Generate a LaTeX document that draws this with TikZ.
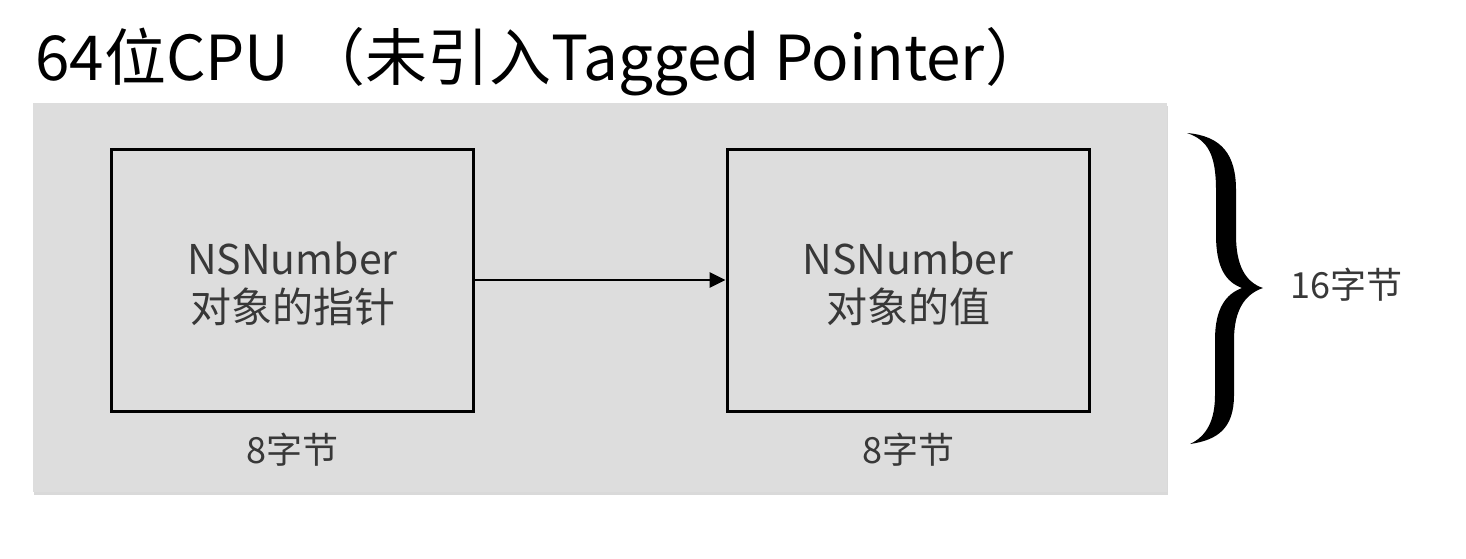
\documentclass[tikz,border=0pt]{standalone}
\usepackage{fontspec}
\setmainfont{Noto Sans CJK SC}
\usetikzlibrary{positioning,shadows,arrows.meta}

\definecolor{panelgray}{RGB}{221,221,221}
\definecolor{textgray}{RGB}{56,56,56}

\tikzset{
  panelbox/.style={fill=panelgray, minimum width=1134pt, minimum height=389pt, inner sep=0pt,
    drop shadow={shadow xshift=1pt, shadow yshift=-3pt, opacity=0.25, fill=black!60}},
  membox/.style={draw=black, line width=3pt, minimum width=362pt, minimum height=262pt, inner sep=0pt},
  boxtext/.style={text=textgray, font=\fontsize{41}{48}\selectfont, align=center, inner sep=0pt},
  sizetext/.style={text=textgray, font=\fontsize{36}{40}\selectfont, inner sep=0pt},
}

\begin{document}
\begin{tikzpicture}[x=1pt, y=-1pt]

    \useasboundingbox (0,0) rectangle (1466,558);

    % 画标题
    \node[anchor=base west, inner sep=0pt] (title) at (35,80)
      {\fontsize{62}{64}\selectfont 64位CPU （未引入Tagged Pointer）};

    % 画灰色背景
    \node[panelbox] (panel) at (600,297.5) {};

    % 画两个方框
    \node[membox] (ptr) at (292.5,280) {};
    \node[membox] (val) at (908,280) {};

    % 插入文字
    \node[boxtext] (ptrtext) at (292.5,284) {NSNumber\\对象的指针};
    \node[boxtext] (valtext) at (908,284) {NSNumber\\对象的值};
    \node[sizetext, below=20pt of ptr] (ptrsize) {8字节};
    \node[sizetext, below=20pt of val] (valsize) {8字节};

    % 画箭头
    \draw[line width=2.8pt, -{Triangle[length=16pt,width=15pt]}] (ptr.east) -- (val.west);

    % 画大括号
    \fill[black] (1187,133) .. controls (1222,136) and (1236,155) .. (1236,190)
      -- (1236,235) .. controls (1236,265) and (1245,282) .. (1263,288)
      .. controls (1245,294) and (1234,310) .. (1234,340)
      -- (1234,395) .. controls (1234,428) and (1218,440) .. (1190,444)
      .. controls (1207,436) and (1215,420) .. (1215,395)
      -- (1215,340) .. controls (1215,308) and (1226,294) .. (1242,288)
      .. controls (1226,282) and (1216,268) .. (1216,235)
      -- (1216,190) .. controls (1216,155) and (1208,140) .. (1187,133) -- cycle;
    \node[sizetext, anchor=west] (total) at (1290,285) {16字节};

\end{tikzpicture}
\end{document}
